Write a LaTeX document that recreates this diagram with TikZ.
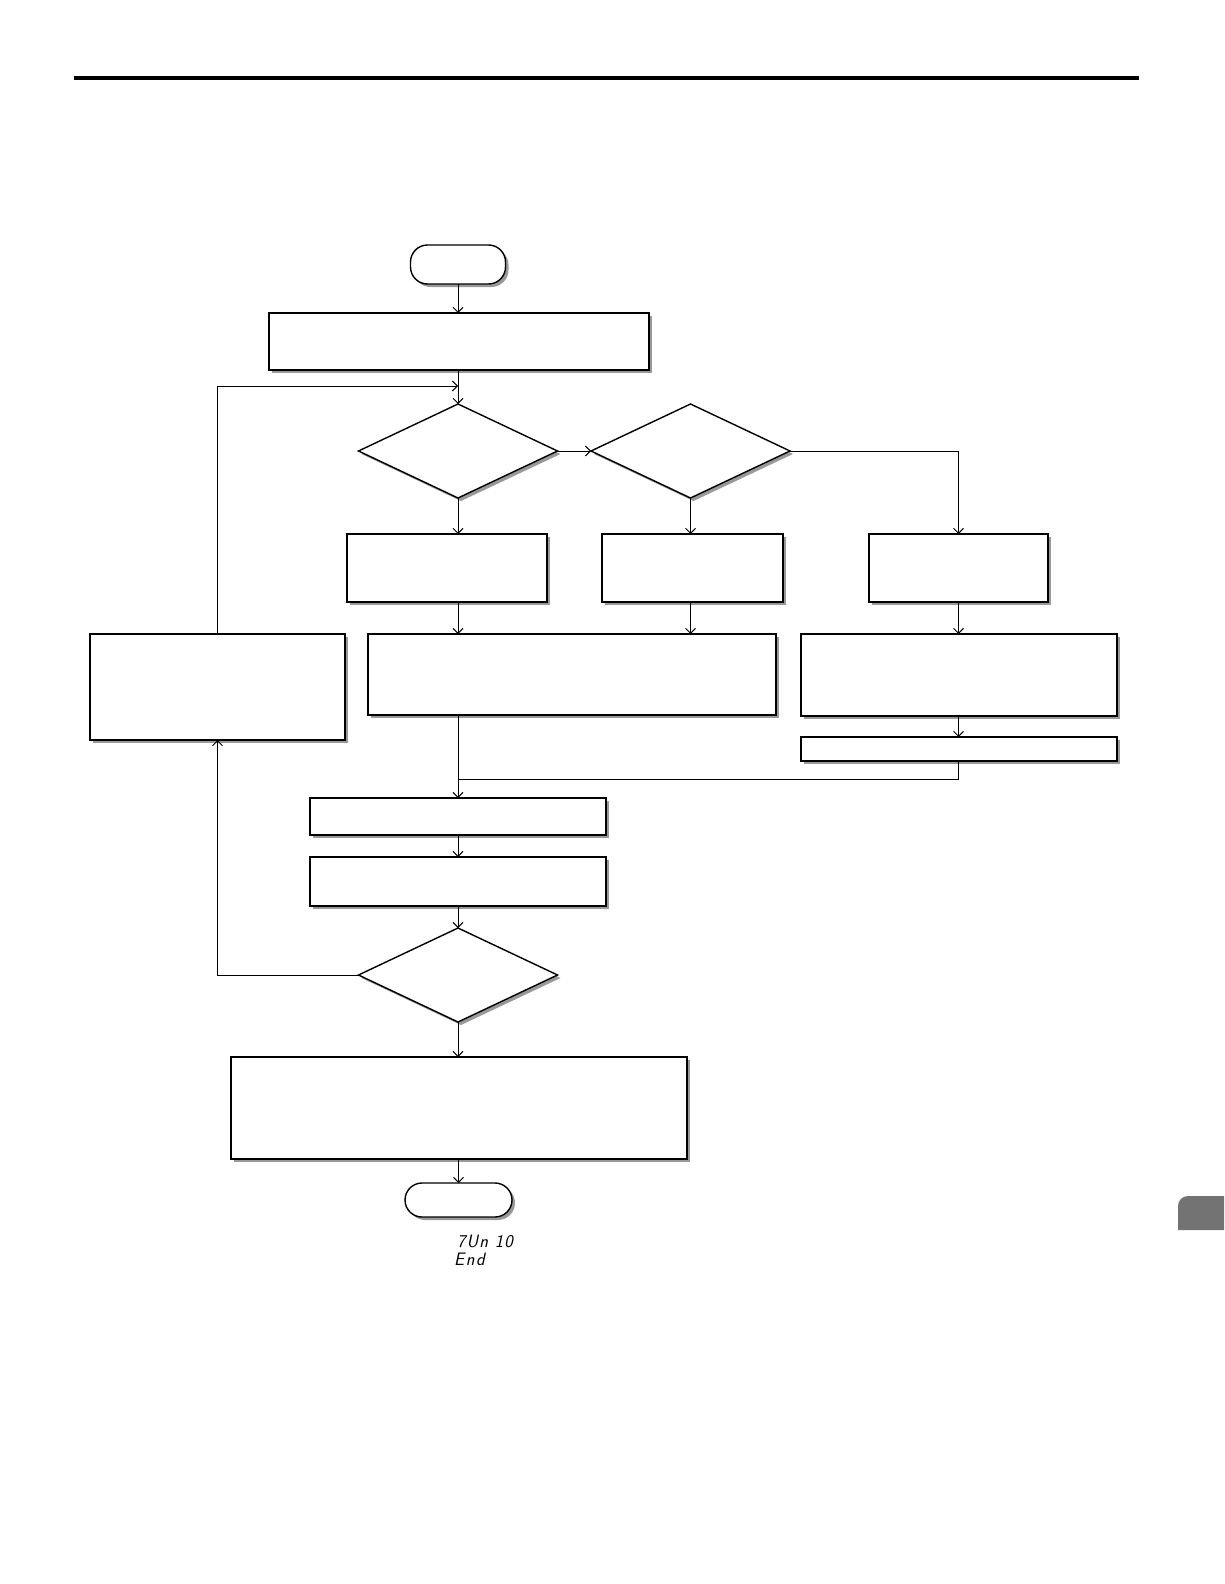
\documentclass[tikz,border=0pt]{standalone}
\usetikzlibrary{shapes.geometric,shadows,arrows.meta,calc}
\begin{document}
\begin{tikzpicture}[x=1pt,y=-1pt,
  shd/.style={drop shadow={shadow xshift=3pt,shadow yshift=-3pt,fill=black!40,opacity=1}},
  box/.style={draw,line width=1.4pt,fill=white,shd,rectangle,inner sep=0pt,outer sep=0pt},
  dia/.style={draw,line width=1.4pt,fill=white,shd,diamond,inner sep=0pt,outer sep=0pt,minimum width=199pt,minimum height=94pt},
  term/.style={draw,line width=1.4pt,fill=white,shd,rectangle,rounded corners=17pt,inner sep=0pt,outer sep=0pt},
  arr/.style={line width=1pt,-{Straight Barb[length=5pt,width=10pt]}},
  ln/.style={line width=1pt},
  seg/.style={anchor=west,inner sep=0pt,font=\fontsize{18}{20}\selectfont\sffamily\slshape}]
\useasboundingbox (0,0) rectangle (1224,1584);
\draw[line width=4pt] (74,78) -- (1139,78);
\fill[black!55] (1178,1230) -- (1178,1206) arc[start angle=180,end angle=270,radius=10] -- (1224,1196) -- (1224,1230) -- cycle;

\node[term,minimum width=95pt,minimum height=39pt] (start) at (458,264.5) {};
\node[box,minimum width=380pt,minimum height=57pt] (b1) at (459,341.5) {};
\node[dia] (d1) at (458,451) {};
\node[dia] (d2) at (690.5,451) {};
\node[box,minimum width=200pt,minimum height=68pt] (ba) at (447,568) {};
\node[box,minimum width=181pt,minimum height=68pt] (bb) at (692.5,568) {};
\node[box,minimum width=179pt,minimum height=68pt] (bc) at (958.5,568) {};
\node[box,minimum width=408pt,minimum height=81pt] (big) at (572,674.5) {};
\node[box,minimum width=316pt,minimum height=82pt] (rb) at (959,675) {};
\node[box,minimum width=316pt,minimum height=24pt] (thin) at (959,749) {};
\node[box,minimum width=255pt,minimum height=106pt] (lb) at (217.5,687) {};
\node[box,minimum width=296pt,minimum height=37pt] (bd) at (458,816.5) {};
\node[box,minimum width=296pt,minimum height=49pt] (be) at (458,881.5) {};
\node[dia] (d3) at (458,975) {};
\node[box,minimum width=456pt,minimum height=102pt] (bf) at (459,1108) {};
\node[term,minimum width=107pt,minimum height=34pt] (end) at (458.5,1200) {};
\node[seg] (t1) at (457,1241) {7\kern1ptU\kern1ptn\hspace{7pt}1\kern1pt0};
\node[seg] (t2) at (454,1259) {E\kern1.5ptn\kern1.5ptd};

\coordinate (j1) at (458,386);
\coordinate (j2) at (458,779);

\draw[arr] (start.south) -- (start.south |- b1.north);
\draw[ln] (b1.south -| d1.north) -- (j1);
\draw[arr] (j1) -- (d1.north);
\draw[arr] (lb.north) |- (j1);
\draw[arr] (d1.east) -- (d2.west);
\draw[arr] (d2.east) -| (bc.north);
\draw[arr] (d1.south) -- (d1.south |- ba.north);
\draw[arr] (d2.south) -- (d2.south |- bb.north);
\draw[arr] (ba.south -| d1.south) -- (d1.south |- big.north);
\draw[arr] (bb.south -| d2.south) -- (d2.south |- big.north);
\draw[arr] (bc.south) -- (bc.south |- rb.north);
\draw[arr] (rb.south -| bc.south) -- (bc.south |- thin.north);
\draw[ln] (thin.south -| bc.south) |- (j2);
\draw[arr] (big.south -| d1.south) -- (d1.south |- bd.north);
\draw[arr] (bd.south) -- (be.north);
\draw[arr] (be.south) -- (d3.north);
\draw[arr] (d3.west) -| (lb.south);
\draw[arr] (d3.south) -- (d3.south |- bf.north);
\draw[arr] (bf.south -| end.north) -- (end.north);
\end{tikzpicture}
\end{document}
